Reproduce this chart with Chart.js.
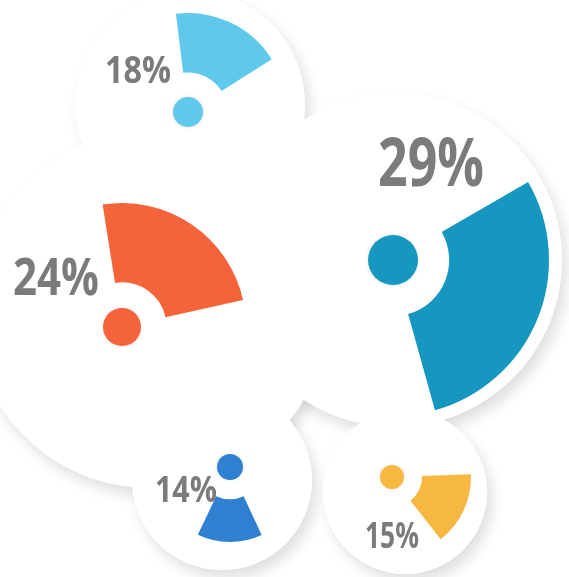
<!DOCTYPE html>
<html>
<head>
<meta charset="utf-8">
<script src="https://cdn.jsdelivr.net/npm/chart.js@4.4.1/dist/chart.umd.min.js"></script>
<style>
  html, body { margin: 0; padding: 0; background: #fff; overflow: hidden; }
  #stage { position: relative; width: 569px; height: 577px; }
  #stage canvas { position: absolute; left: 0; top: 0; }
</style>
</head>
<body>
<div id="stage">
  <canvas id="js--ring--1" width="569" height="577"></canvas>
  <canvas id="js--ring--2" width="569" height="577"></canvas>
  <canvas id="js--ring--3" width="569" height="577"></canvas>
  <canvas id="js--ring--4" width="569" height="577"></canvas>
  <canvas id="js--ring--5" width="569" height="577"></canvas>
</div>
<script>
const shares = [18, 24, 29, 14, 15];
const sliceColors = ['#5ec9ea', '#f5633b', '#1597bf', '#2f80d0', '#f6b841'];

const W = 569, H = 577;

// ring placement: centre, outer radius, hole, start angle, centre dot
const rings = [
  { x: 188, y: 112, r: 99,  cutout: '40%', rotation: -7,  dot: 15 },
  { x: 122, y: 327, r: 124, cutout: '36%', rotation: -9,  dot: 19 },
  { x: 393, y: 260, r: 156, cutout: '36%', rotation: 60,  dot: 25 },
  { x: 230, y: 467, r: 75,  cutout: '43%', rotation: 155, dot: 13 },
  { x: 392, y: 477, r: 79,  cutout: '38%', rotation: 88,  dot: 12 }
];

// label boxes: left, baseline, font size, max width
const labelBoxes = [
  { x: 105, y: 83,  size: 38, w: 66 },
  { x: 13,  y: 295, size: 52, w: 86 },
  { x: 378, y: 186, size: 66, w: 106 },
  { x: 155, y: 502, size: 35, w: 62 },
  { x: 365, y: 548, size: 36, w: 54 }
];

// white discs behind everything
const bubbles = [
  { x: 190, y: 105, r: 115 },
  { x: 150, y: 310, r: 178 },
  { x: 395, y: 260, r: 167 },
  { x: 222, y: 480, r: 90 },
  { x: 405, y: 492, r: 82 }
];

const bubblePlugin = {
  id: 'bubbles',
  beforeDraw(chart) {
    const ctx = chart.ctx;
    ctx.save();
    ctx.fillStyle = '#fff';
    ctx.shadowColor = 'rgba(0, 0, 0, 0.13)';
    ctx.shadowBlur = 14;
    ctx.shadowOffsetX = 5;
    ctx.shadowOffsetY = 8;
    bubbles.forEach(b => {
      ctx.beginPath();
      ctx.arc(b.x, b.y, b.r, 0, Math.PI * 2);
      ctx.fill();
    });
    ctx.shadowColor = 'rgba(0, 0, 0, 0)';
    bubbles.forEach(b => {
      ctx.beginPath();
      ctx.arc(b.x, b.y, b.r, 0, Math.PI * 2);
      ctx.fill();
    });
    ctx.restore();
  }
};

const dotAndLabel = {
  id: 'dotAndLabel',
  afterDatasetsDraw(chart, args, opts) {
    const i = opts.index;
    const arc = chart.getDatasetMeta(0).data[0];
    const ctx = chart.ctx;
    ctx.save();
    ctx.fillStyle = sliceColors[i];
    ctx.shadowColor = 'rgba(0, 0, 0, 0.1)';
    ctx.shadowBlur = 4;
    ctx.beginPath();
    ctx.arc(arc.x, arc.y, rings[i].dot, 0, Math.PI * 2);
    ctx.fill();
    ctx.restore();

    const lb = labelBoxes[i];
    ctx.save();
    ctx.fillStyle = '#7b7b7b';
    ctx.font = `700 ${lb.size}px "Open Sans"`;
    ctx.textBaseline = 'alphabetic';
    ctx.textAlign = 'left';
    ctx.fillText(shares[i] + '%', lb.x, lb.y, lb.w);
    ctx.restore();
  }
};

function makeRing(canvas, i) {
  const ring = rings[i];
  const s = Math.max(1, Math.min(ring.r, ring.x, ring.y, W - ring.x, H - ring.y));
  return new Chart(canvas, {
    type: 'doughnut',
    data: {
      labels: [shares[i] + '%', ''],
      datasets: [{
        data: [shares[i], 100 - shares[i]],
        backgroundColor: [sliceColors[i], 'rgba(0,0,0,0)'],
        borderWidth: 0,
        hoverOffset: 0
      }]
    },
    options: {
      responsive: false,
      animation: false,
      events: [],
      rotation: ring.rotation,
      cutout: ring.cutout,
      radius: ring.r,
      layout: {
        padding: { left: ring.x - s, right: W - ring.x - s, top: ring.y - s, bottom: H - ring.y - s }
      },
      plugins: {
        legend: { display: false },
        tooltip: { enabled: false },
        dotAndLabel: { index: i }
      }
    },
    plugins: i === 0 ? [bubblePlugin, dotAndLabel] : [dotAndLabel]
  });
}

const charts = shares.map((v, i) => makeRing(document.getElementById('js--ring--' + (i + 1)), i));
</script>
</body>
</html>
